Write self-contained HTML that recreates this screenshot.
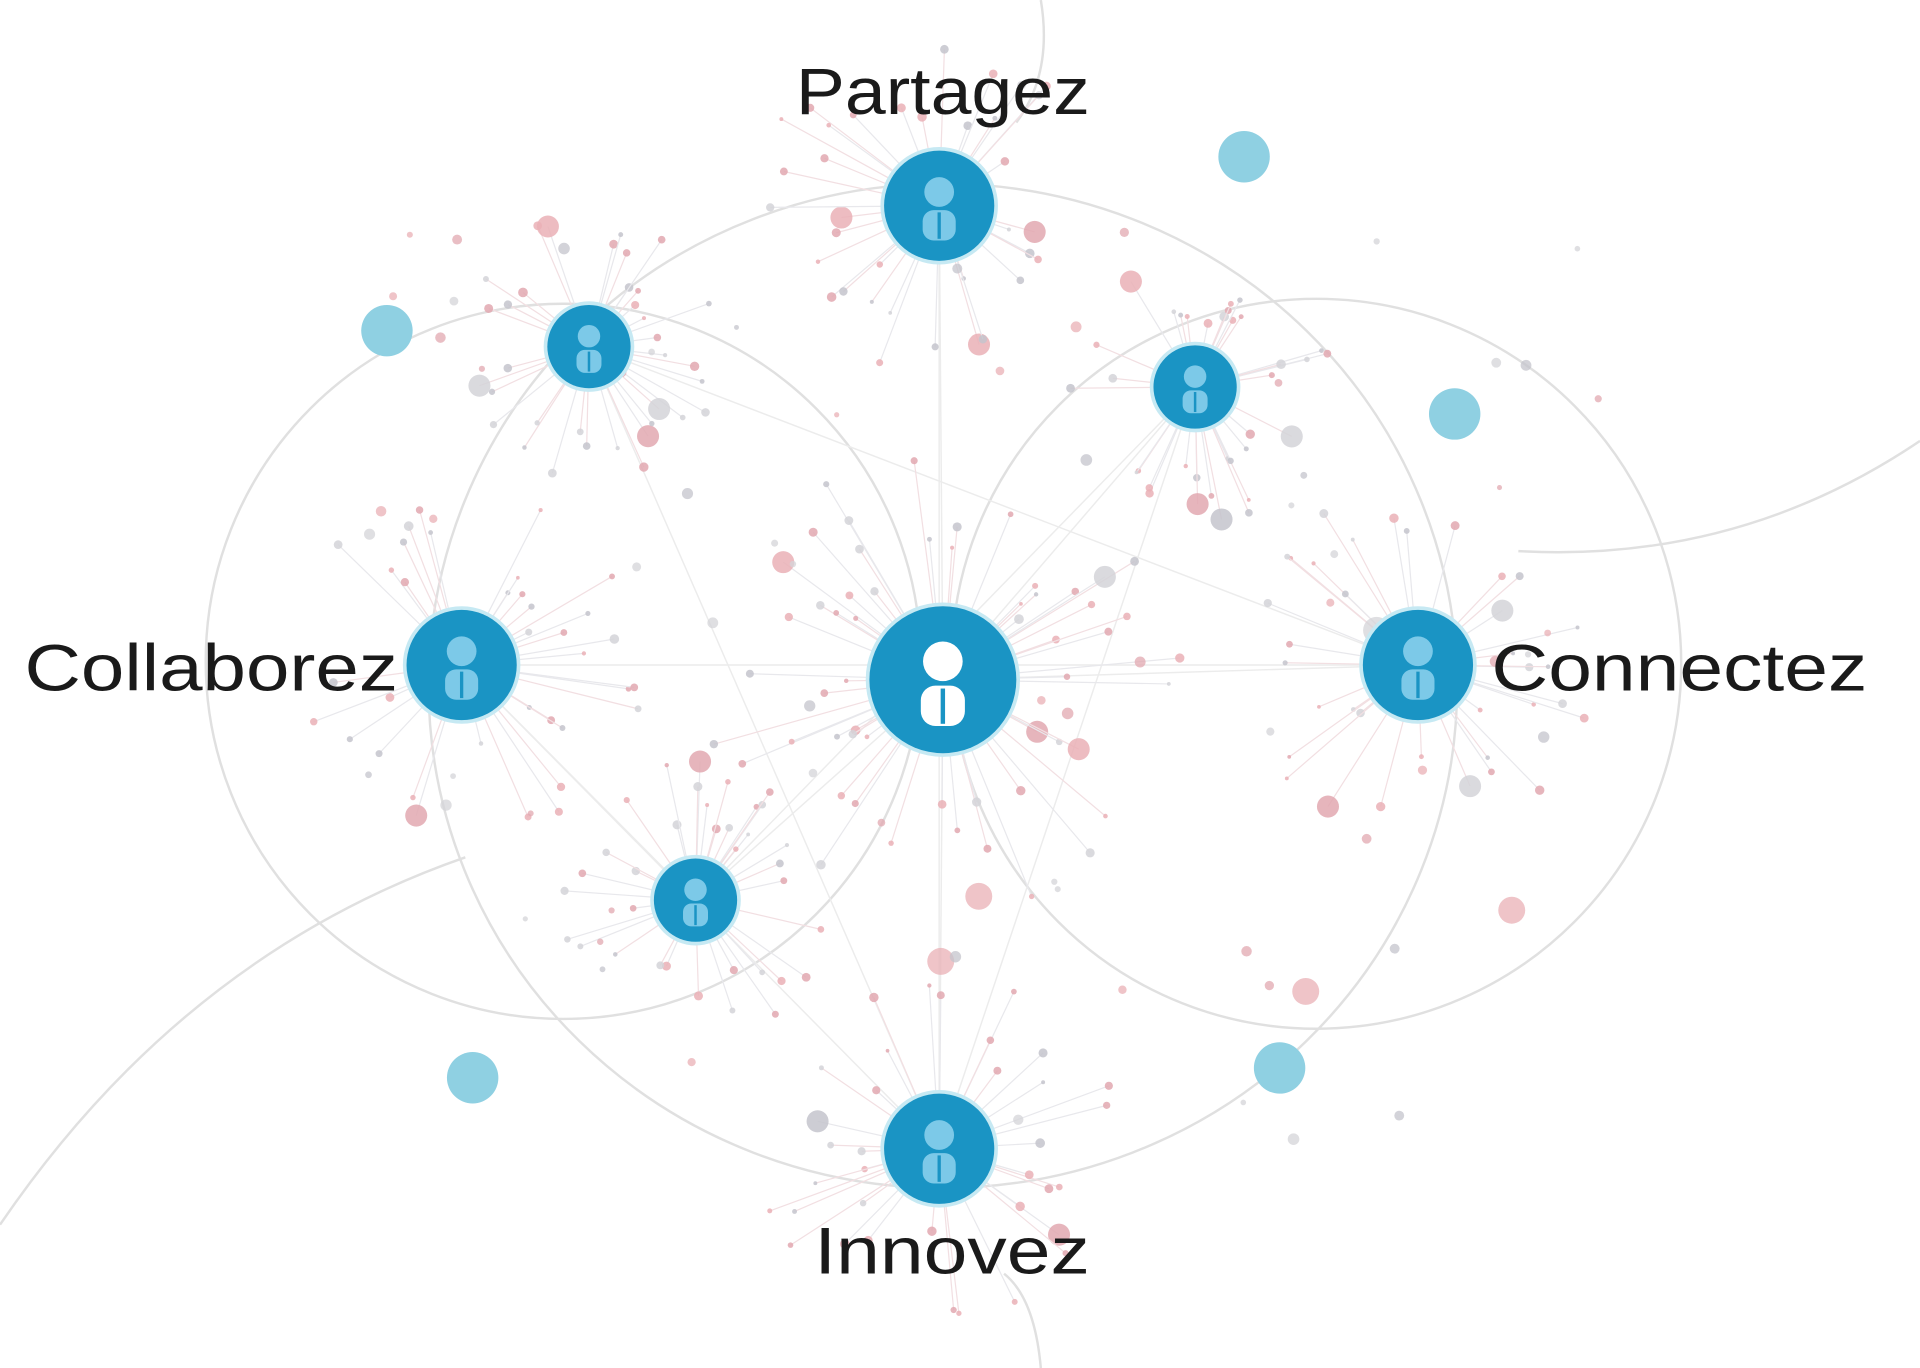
<!DOCTYPE html>
<html><head><meta charset="utf-8"><style>
html,body{margin:0;padding:0;background:#fff;width:1920px;height:1368px;overflow:hidden}
svg{display:block}
text{font-family:"Liberation Sans",sans-serif;fill:#1a1a1a}
</style></head><body>
<svg id="s" width="1920" height="1368" viewBox="0 0 1568 1117" preserveAspectRatio="none">
<g fill="none" stroke="#e0e0e0" stroke-width="2">
<circle cx="460" cy="540" r="292"/>
<circle cx="1075" cy="542" r="298"/>
<ellipse cx="770" cy="560" rx="420" ry="410"/>
<path d="M0 1000 Q150 780 380 700"/>
<path d="M1568 360 Q1420 460 1240 450"/>
<path d="M850 0 Q860 60 830 100"/>
<path d="M850 1117 Q845 1060 820 1040"/>
</g>
<g id="spokes"></g>
<g id="nodes"></g>
<g fill="#8fd0e2">
<circle cx="1016" cy="128" r="21"/><circle cx="316" cy="270" r="21"/><circle cx="1188" cy="338" r="21"/><circle cx="386" cy="880" r="21"/><circle cx="1045" cy="872" r="21"/>
</g>
<text x="650" y="93" font-size="54" textLength="240" lengthAdjust="spacingAndGlyphs">Partagez</text>
<text x="20" y="564" font-size="54" textLength="305" lengthAdjust="spacingAndGlyphs">Collaborez</text>
<text x="1218" y="564" font-size="54" textLength="307" lengthAdjust="spacingAndGlyphs">Connectez</text>
<text x="665" y="1040" font-size="54" textLength="225" lengthAdjust="spacingAndGlyphs">Innovez</text>
</svg>
<script>
var seed=7;function r(){seed=(seed*16807)%2147483647;return seed/2147483647;}
var ns="http://www.w3.org/2000/svg";
var nodes=[[770,555,60,1],[767,168,45,0],[377,543,45,0],[1158,543,45,0],[767,938,45,0],[481,283,34,0],[976,316,34,0],[568,735,34,0]];
var sp=document.getElementById('spokes'),nd=document.getElementById('nodes');
function el(t,a,p){var e=document.createElementNS(ns,t);for(var k in a)e.setAttribute(k,a[k]);p.appendChild(e);return e;}
var cols=['#eab0b6','#c4c4cc','#e2a8b0','#d4d4d8'];
for(var i=0;i<nodes.length;i++)for(var j=i+1;j<nodes.length;j++){if(r()<0.6)el('line',{x1:nodes[i][0],y1:nodes[i][1],x2:nodes[j][0],y2:nodes[j][1],stroke:'#ececec','stroke-width':1.2},sp);}
nodes.forEach(function(n){
 var cnt=n[3]?55:35,L=n[3]?120:(n[2]>40?90:65);
 for(var k=0;k<cnt;k++){var a=r()*6.283,d=n[2]+15+r()*L;var x=n[0]+Math.cos(a)*d,y=n[1]+Math.sin(a)*d;
  el('line',{x1:n[0],y1:n[1],x2:x,y2:y,stroke:r()<0.5?'#f2dfe2':'#e8e8ec','stroke-width':1},sp);
  el('circle',{cx:x,cy:y,r:r()<0.05?9:1.5+r()*2.5,fill:cols[Math.floor(r()*4)],opacity:0.85},sp);}
});
for(var k=0;k<80;k++){el('circle',{cx:280+r()*1040,cy:180+r()*780,r:r()<0.08?11:2+r()*3,fill:cols[Math.floor(r()*4)],opacity:0.75},sp);}
nodes.forEach(function(n){
 var R=n[2];el('circle',{cx:n[0],cy:n[1],r:R+3,fill:'#c6e9f3'},nd);
 el('circle',{cx:n[0],cy:n[1],r:R,fill:'#1a94c4'},nd);
 var c=n[3]?'#ffffff':'#7cc9e8';
 el('circle',{cx:n[0],cy:n[1]-R*0.25,r:R*0.27,fill:c},nd);
 el('rect',{x:n[0]-R*0.3,y:n[1]+R*0.08,width:R*0.6,height:R*0.55,rx:R*0.2,fill:c},nd);
 el('line',{x1:n[0],y1:n[1]+R*0.12,x2:n[0],y2:n[1]+R*0.6,stroke:'#1a94c4','stroke-width':R*0.06},nd);
});
</script>
</body></html>
